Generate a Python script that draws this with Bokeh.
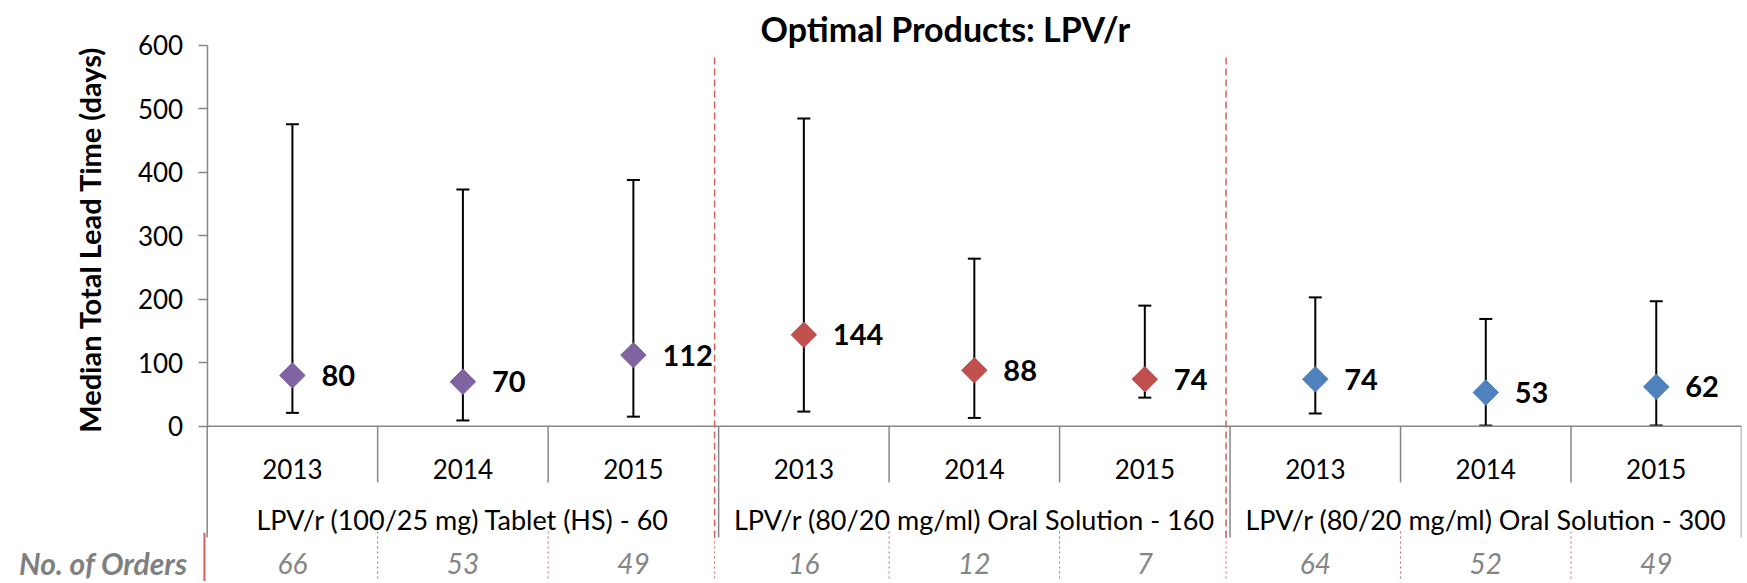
import math
from bokeh.plotting import figure
from bokeh.models import Range1d, FixedTicker, Whisker, TeeHead, ColumnDataSource
from bokeh.core.properties import value
from bokeh.embed import file_html
from bokeh.resources import INLINE

# ---------------- data ----------------
chart_title = "Optimal Products: LPV/r"
y_label = "Median  Total Lead Time (days)"
groups = [
    "LPV/r (100/25 mg) Tablet (HS) - 60",
    "LPV/r (80/20 mg/ml) Oral Solution - 160",
    "LPV/r (80/20 mg/ml) Oral Solution - 300",
]
years = ["2013", "2014", "2015"]
medians = [80, 70, 112, 144, 88, 74, 74, 53, 62]
upper = [476, 373, 388, 485, 264, 190, 203, 169, 197]
lower = [21, 9, 15, 23, 13, 45, 20, 1, 1]
orders = [66, 53, 49, 16, 12, 7, 64, 52, 49]
orders_label = "No. of Orders"
group_colors = ["#8064A2", "#C0504D", "#4F81BD"]
y_ticks = [0, 100, 200, 300, 400, 500, 600]

# ---------------- layout helpers ----------------
FONT = value("Lato")
AXIS_GREY = "#868686"
RED = "#D0605C"
ORDER_GREY = "#858585"

ny = len(years)
n = len(groups) * ny
xc = [i + 0.5 for i in range(n)]
colors = [group_colors[i // ny] for i in range(n)]
year_text = [years[i % ny] for i in range(n)]

X_MIN = -1.2123
ROW_YEAR = -68.2
ROW_GROUP = -147.0
ROW_ORDERS = -216.4
YEAR_SEP_BOTTOM = -88.7
GROUP_SEP_BOTTOM = -175.4
ORDERS_TOP = -166.0
Y_MIN, Y_MAX = -244.8, 670.9

p = figure(
    width=1745, height=581,
    x_range=Range1d(X_MIN, n), y_range=Range1d(Y_MIN, Y_MAX),
    output_backend="svg", toolbar_location=None, title=None,
    x_axis_type=None,
    min_border_left=0, min_border_right=4, min_border_top=0, min_border_bottom=0,
)
p.grid.visible = False
p.outline_line_color = None
p.background_fill_color = "white"
p.border_fill_color = "white"

ya = p.yaxis[0]
ya.fixed_location = 0
ya.bounds = (y_ticks[0], y_ticks[-1])
ya.ticker = FixedTicker(ticks=y_ticks)
ya.minor_tick_line_color = None
ya.axis_line_color = AXIS_GREY
ya.axis_line_width = 1.5
ya.major_tick_line_color = AXIS_GREY
ya.major_tick_line_width = 1.5
ya.major_tick_out = 9
ya.major_tick_in = 0
ya.major_label_text_font = "Lato"
ya.major_label_text_font_size = "26px"
ya.major_label_text_color = "black"
ya.major_label_standoff = 15

# rotated y-axis title
p.text(x=[(89 - 206.7) / 170.5], y=[(y_ticks[0] + y_ticks[-1]) / 2], text=[y_label],
       angle=math.pi / 2, text_font=FONT, text_font_size="29px", text_font_style="bold",
       text_align="center", text_baseline="middle", text_color="black")

# ---------------- category table lines ----------------
p.segment(x0=[0], x1=[n], y0=[0], y1=[0], line_color=AXIS_GREY, line_width=1.5)
year_seps = [k for k in range(1, n) if k % ny != 0]
group_seps = [k for k in range(0, n + 1) if k % ny == 0]
p.segment(x0=year_seps, x1=year_seps, y0=[0] * len(year_seps), y1=[YEAR_SEP_BOTTOM] * len(year_seps),
          line_color=AXIS_GREY, line_width=1.5)
p.segment(x0=group_seps, x1=group_seps, y0=[0] * len(group_seps), y1=[GROUP_SEP_BOTTOM] * len(group_seps),
          line_color=AXIS_GREY, line_width=1.5)

# red group dividers
div_x = [k - 0.0235 for k in group_seps[1:-1]]
p.segment(x0=div_x, x1=div_x, y0=[581] * len(div_x), y1=[GROUP_SEP_BOTTOM] * len(div_x),
          line_color=RED, line_width=1.5, line_dash="7 4")
dot_x = year_seps + div_x
p.segment(x0=dot_x, x1=dot_x, y0=[ORDERS_TOP] * len(dot_x), y1=[Y_MIN] * len(dot_x),
          line_color=RED, line_width=1, line_dash="2 3")
p.segment(x0=[-0.016], x1=[-0.016], y0=[ORDERS_TOP - 2], y1=[Y_MIN], line_color=RED, line_width=2)

# ---------------- texts of the table ----------------
p.text(x=xc, y=[ROW_YEAR] * n, text=year_text, text_font=FONT, text_font_size="26px",
       text_align="center", text_baseline="middle", text_color="black")
p.text(x=[g * ny + ny / 2 for g in range(len(groups))], y=[ROW_GROUP] * len(groups), text=groups,
       text_font=FONT, text_font_size="27px", text_align="center", text_baseline="middle",
       text_color="black")
p.text(x=xc, y=[ROW_ORDERS] * n, text=[str(o) for o in orders], text_font=FONT,
       text_font_size="28px", text_font_style="italic", text_align="center",
       text_baseline="middle", text_color=ORDER_GREY)
p.text(x=[(187 - 206.7) / 170.5], y=[ROW_ORDERS], text=[orders_label], text_font=FONT,
       text_font_size="30px", text_font_style="bold italic", text_color="#7F7F7F",
       text_align="right", text_baseline="middle")

# ---------------- title ----------------
p.text(x=[(945 - 206.7) / 170.5], y=[626.8], text=[chart_title], text_font=FONT,
       text_font_size="34px", text_font_style="bold", text_align="center",
       text_baseline="middle", text_color="black")

# ---------------- data marks ----------------
src = ColumnDataSource(dict(x=xc, lower=lower, upper=upper, median=medians, color=colors,
                            label=[str(m) for m in medians]))
p.add_layout(Whisker(base="x", lower="lower", upper="upper", source=src, dimension="height",
                     line_color="black", line_width=2,
                     upper_head=TeeHead(size=13, line_width=2, line_color="black"),
                     lower_head=TeeHead(size=13, line_width=2, line_color="black")))
p.scatter("x", "median", source=src, marker="square", angle=math.pi / 4, size=18,
          fill_color="color", line_color="color")
p.text("x", "median", text="label", source=src, x_offset=29, text_font=FONT,
       text_font_size="29px", text_font_style="bold", text_align="left",
       text_baseline="middle", text_color="black")

open("out.html", "w").write(file_html(p, INLINE))
